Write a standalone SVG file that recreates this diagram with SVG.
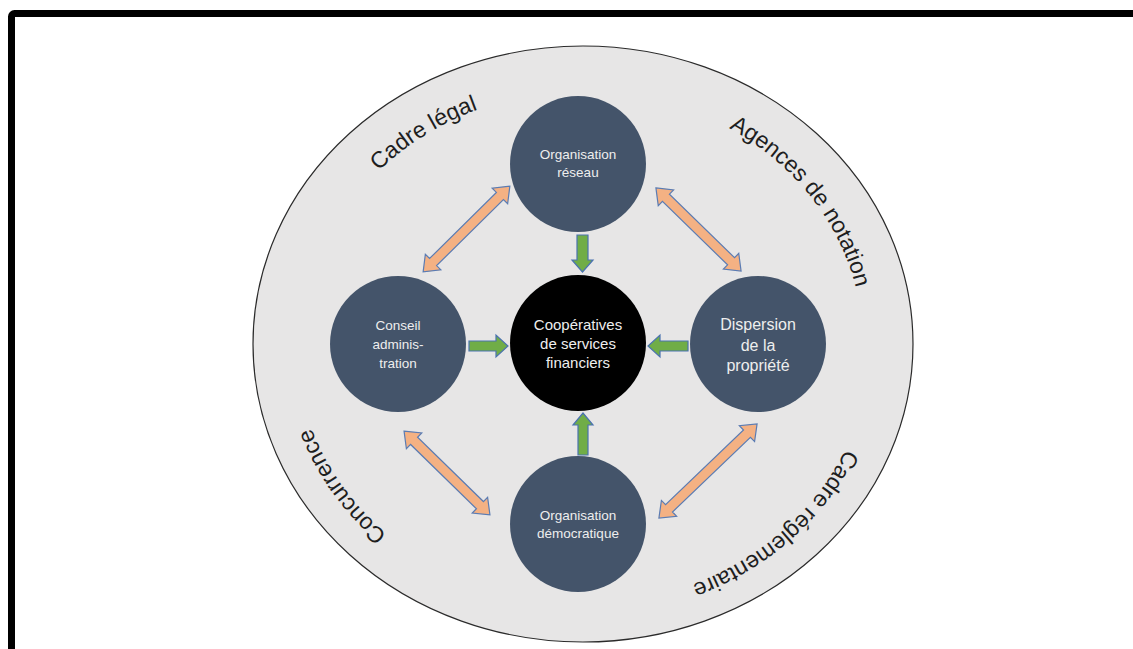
<svg xmlns="http://www.w3.org/2000/svg" xmlns:xlink="http://www.w3.org/1999/xlink" width="1133" height="649" viewBox="0 0 1133 649">
<style>
.ring{font-family:"Liberation Sans",Arial,sans-serif;font-size:23px;fill:#1e1e1e}
.node{fill:#44546A}
.center{fill:#000}
.lbl{font-family:"Liberation Sans",Arial,sans-serif;fill:#eeeeee;text-anchor:middle}
.ga{fill:#70AD47;stroke:#4a72b0;stroke-width:1.2}
.oa{fill:#F4B183;stroke:#5b7cb3;stroke-width:1.2}
</style>
<defs>
<path id="p1" d="M329.2,237.1 A280,253 0 0 1 558.6,92.0"/>
<path id="p2" d="M655.5,99.6 A280,253 0 0 1 861.9,366.1"/>
<path id="p3" d="M868.9,366.7 A287,260 0 0 1 608.0,603.0"/>
<path id="p4" d="M439.5,569.2 A287,260 0 0 1 297.1,366.7"/>
</defs>
<rect width="1133" height="649" fill="#fff"/>
<rect x="11.5" y="13.5" width="1200" height="700" rx="3" fill="none" stroke="#000" stroke-width="7"/>
<g id="ring">
<ellipse cx="583" cy="344" rx="330" ry="298" fill="#E7E6E6" stroke="#2b2b2b" stroke-width="1.2"/>
<text class="ring"><textPath xlink:href="#p1" href="#p1" startOffset="50%" text-anchor="middle">Cadre légal</textPath></text>
<text class="ring"><textPath xlink:href="#p2" href="#p2" startOffset="50%" text-anchor="middle">Agences de notation</textPath></text>
<text class="ring"><textPath xlink:href="#p3" href="#p3" startOffset="50%" text-anchor="middle">Cadre réglementaire</textPath></text>
<text class="ring"><textPath xlink:href="#p4" href="#p4" startOffset="50%" text-anchor="middle">Concurrence</textPath></text>
</g>
<g id="connectors">
<path class="ga" d="M577,235 H588 V260 H593 L582.5,272 L572,260 H577 Z"/>
<path class="ga" d="M469,341 H496 V335 L508,346 L496,357 V351 H469 Z"/>
<path class="ga" d="M688,341 H660 V335 L648,346 L660,357 V351 H688 Z"/>
<path class="ga" d="M578,455 V425 H573 L583,413 L593,425 H588 V455 Z"/>
<path class="oa" transform="translate(466.5,229) rotate(-44.7)" d="M-61,0 L-47,-11 L-47,-5 L47,-5 L47,-11 L61,0 L47,11 L47,5 L-47,5 L-47,11 Z"/>
<path class="oa" transform="translate(698.5,229.5) rotate(44.3)" d="M-59.5,0 L-45.5,-11 L-45.5,-5 L45.5,-5 L45.5,-11 L59.5,0 L45.5,11 L45.5,5 L-45.5,5 L-45.5,11 Z"/>
<path class="oa" transform="translate(447,473) rotate(44.3)" d="M-60,0 L-46,-11 L-46,-5 L46,-5 L46,-11 L60,0 L46,11 L46,5 L-46,5 L-46,11 Z"/>
<path class="oa" transform="translate(708,471) rotate(-43.8)" d="M-68,0 L-54,-11 L-54,-5 L54,-5 L54,-11 L68,0 L54,11 L54,5 L-54,5 L-54,11 Z"/>
</g>
<g id="n-reseau">
<circle class="node" cx="578" cy="164" r="68"/>
<text class="lbl" font-size="13.5"><tspan x="578" y="159">Organisation</tspan><tspan x="578" y="177">réseau</tspan></text>
</g>
<g id="n-conseil">
<circle class="node" cx="398" cy="344" r="68"/>
<text class="lbl" font-size="13.5"><tspan x="398" y="330">Conseil</tspan><tspan x="398" y="349">adminis-</tspan><tspan x="398" y="368">tration</tspan></text>
</g>
<g id="n-centre">
<circle class="center" cx="578" cy="343" r="68"/>
<text class="lbl" font-size="15"><tspan x="578" y="330">Coopératives</tspan><tspan x="578" y="349">de services</tspan><tspan x="578" y="368">financiers</tspan></text>
</g>
<g id="n-dispersion">
<circle class="node" cx="758" cy="344" r="68"/>
<text class="lbl" font-size="16"><tspan x="758" y="330">Dispersion</tspan><tspan x="758" y="351">de la</tspan><tspan x="758" y="371">propriété</tspan></text>
</g>
<g id="n-democratique">
<circle class="node" cx="578" cy="524" r="68"/>
<text class="lbl" font-size="13.5"><tspan x="578" y="520">Organisation</tspan><tspan x="578" y="538">démocratique</tspan></text>
</g>
</svg>
